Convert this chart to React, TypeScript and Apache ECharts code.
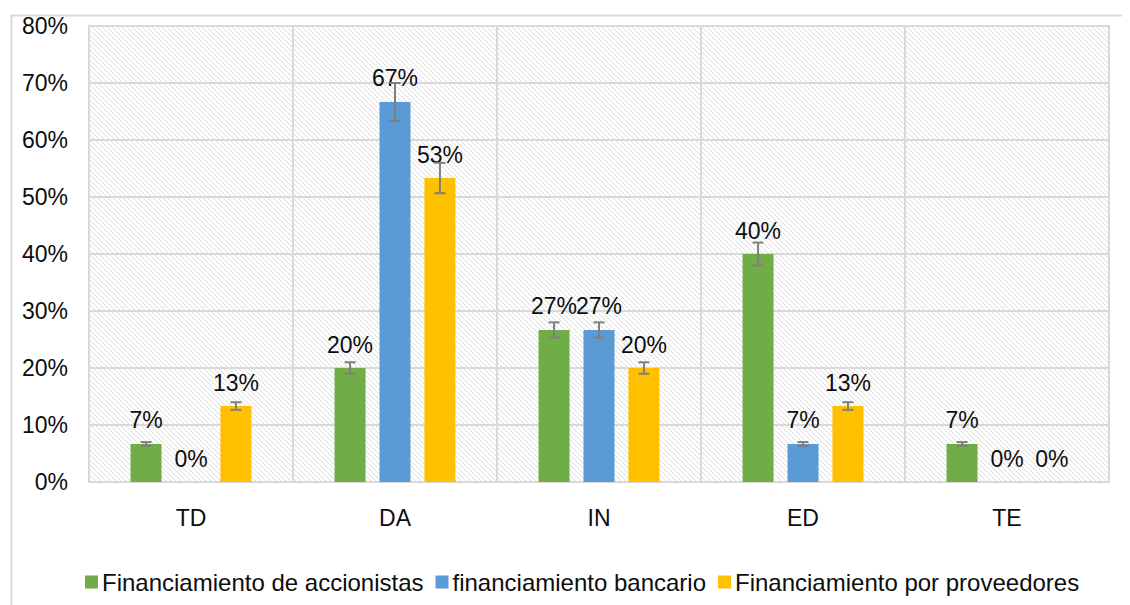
import React, { useEffect, useRef } from "react";
import * as echarts from "echarts";

const categories = ["TD", "DA", "IN", "ED", "TE"];
const seriesNames = [
  "Financiamiento de accionistas",
  "financiamiento bancario",
  "Financiamiento por proveedores",
];
const accionistas = [6.67, 20, 26.67, 40, 6.67];
const bancario = [0, 66.67, 26.67, 6.67, 0];
const proveedores = [13.33, 53.33, 20, 13.33, 0];
const yTicks = { min: 0, max: 80, interval: 10 };
const errorPct = 0.05;

const colors = ["#70ad47", "#5b9bd5", "#ffc000"];
const BAR_W = 31;
const BAR_GAP = 0.45;
const FONT = "'Liberation Sans', Arial, sans-serif";
const TEXT = "#0d0d0d";
const GRID_LINE = "#d9d9d9";

const hatchSvg =
  "data:image/svg+xml;charset=utf-8," +
  encodeURIComponent(
    "<svg xmlns='http://www.w3.org/2000/svg' width='5' height='5'>" +
      "<rect width='5' height='5' fill='#ffffff'/>" +
      "<path d='M0,0 L5,5 M-1,4 L1,6 M4,-1 L6,1' stroke='#dadada' stroke-width='1'/></svg>"
  );

export default function App() {
  const ref = useRef<HTMLDivElement>(null);

  useEffect(() => {
    if (!ref.current) return;
    const chart = echarts.init(ref.current, null, { renderer: "svg" });
    const allSeries = [accionistas, bancario, proveedores];

    const errData: number[][] = [];
    allSeries.forEach((arr, s) => {
      arr.forEach((v, c) => {
        if (v > 0) errData.push([c, v, s]);
      });
    });

    const barSeries = allSeries.map((arr, i) => ({
      name: seriesNames[i],
      type: "bar",
      data: arr,
      barWidth: BAR_W,
      barGap: BAR_GAP * 100 + "%",
      itemStyle: { color: colors[i] },
      label: {
        show: true,
        position: "top",
        distance: 12,
        fontSize: 23,
        fontFamily: FONT,
        color: TEXT,
        formatter: (p: any) => Math.round(p.value) + "%",
      },
      z: 2,
    }));

    const errSeries = {
      type: "custom",
      silent: true,
      z: 3,
      data: errData,
      renderItem: (params: any, api: any) => {
        const c = api.value(0);
        const v = api.value(1);
        const s = api.value(2);
        const off = (s - 1) * (BAR_W + BAR_W * BAR_GAP);
        const hi = api.coord([c, v * (1 + errorPct)]);
        const lo = api.coord([c, v * (1 - errorPct)]);
        const x = hi[0] + off;
        const cap = 5.5;
        const style = { stroke: "#7f7f7f", lineWidth: 2 };
        return {
          type: "group",
          children: [
            { type: "line", shape: { x1: x, y1: hi[1], x2: x, y2: lo[1] }, style },
            { type: "line", shape: { x1: x - cap, y1: hi[1], x2: x + cap, y2: hi[1] }, style },
            { type: "line", shape: { x1: x - cap, y1: lo[1], x2: x + cap, y2: lo[1] }, style },
          ],
        };
      },
    };

    chart.setOption({
      animation: false,
      backgroundColor: "#ffffff",
      textStyle: { fontFamily: FONT },
      graphic: [
        {
          type: "rect",
          left: 1,
          top: 5,
          shape: { x: 0, y: 0, width: 1130, height: 600 },
          style: { fill: "none", stroke: GRID_LINE, lineWidth: 2 },
          silent: true,
          z: -10,
        },
      ],
      grid: {
        show: true,
        left: 81,
        top: 18,
        right: 21,
        bottom: 123,
        backgroundColor: {
          image: hatchSvg,
          repeat: "repeat",
          imageWidth: 5,
          imageHeight: 5,
        },
        borderColor: GRID_LINE,
        borderWidth: 2,
      },
      legend: {
        data: seriesNames,
        left: 72,
        top: 557,
        icon: "rect",
        itemWidth: 13,
        itemHeight: 13,
        itemGap: 12,
        textStyle: { fontSize: 24, color: TEXT, fontFamily: FONT, padding: [0, 0, 0, -1] },
      },
      xAxis: {
        type: "category",
        data: categories,
        axisTick: { show: false },
        axisLine: { lineStyle: { color: GRID_LINE, width: 2 } },
        axisLabel: { fontSize: 23, color: TEXT, fontFamily: FONT, margin: 24 },
        splitLine: { show: true, lineStyle: { color: GRID_LINE, width: 2 } },
      },
      yAxis: {
        type: "value",
        min: yTicks.min,
        max: yTicks.max,
        interval: yTicks.interval,
        axisLine: { show: false },
        axisTick: { show: false },
        axisLabel: {
          fontSize: 23,
          color: TEXT,
          fontFamily: FONT,
          margin: 21,
          formatter: "{value}%",
        },
        splitLine: { lineStyle: { color: GRID_LINE, width: 2 } },
      },
      series: [...barSeries, errSeries],
    });

    return () => chart.dispose();
  }, []);

  return <div ref={ref} style={{ width: 1122, height: 597 }} />;
}
